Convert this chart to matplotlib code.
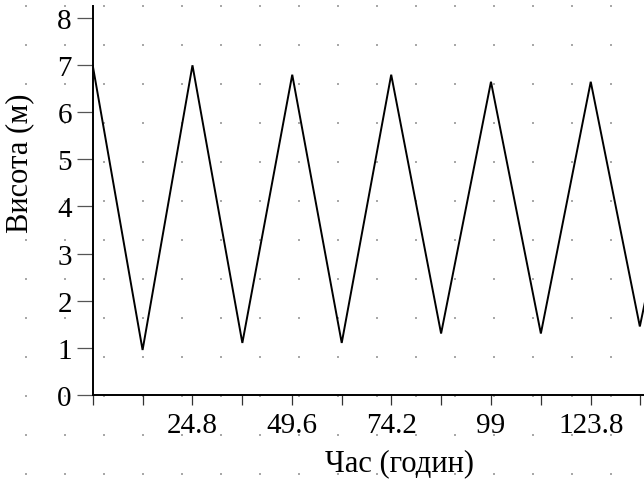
import numpy as np
import matplotlib
matplotlib.use('Agg')
from matplotlib import pyplot as plt

# tide heights: peaks and troughs
hours = [0, 12.4, 24.8, 37.2, 49.6, 61.9, 74.2, 86.6, 99, 111.4, 123.8, 136.0, 148.4]
height = [7.0, 0.95, 7.0, 1.1, 6.8, 1.1, 6.8, 1.3, 6.65, 1.3, 6.65, 1.45, 6.5]
tick_labels = ['', '', '24.8', '', '49.6', '', '74.2', '', '99', '', '123.8', '', '']

plt.rcParams['font.family'] = ['Liberation Serif', 'DejaVu Serif']
plt.rcParams['font.size'] = 21

W, H = 644, 481
fig = plt.figure(figsize=(W/100, H/100), dpi=100)

# dotted background grid (pixel coords)
bg = fig.add_axes([0, 0, 1, 1], zorder=-1)
bg.set_xlim(0, W)
bg.set_ylim(H, 0)
bg.axis('off')
gx, gy = np.meshgrid(np.arange(26, W, 39), np.arange(7, H, 39))
bg.scatter(gx.ravel(), gy.ravel(), s=0.6, color='#a8a8a8', marker='s', linewidths=0)

left, right = 92.7/W, 1.0
bottom, top = (H-395.7)/H, (H-7)/H
ax = fig.add_axes([left, bottom, right-left, top-bottom])
ax.patch.set_alpha(0)

ax.plot(hours, height, color='black', lw=1.4, solid_joinstyle='miter')

ax.set_xlim(0, (W-92.7)/4.023)
ax.set_ylim(0, 8.26)
ax.set_xticks(hours[:-1])
ax.set_xticklabels(tick_labels[:-1])
ax.set_yticks(range(0, 9))

for s in ['top', 'right']:
    ax.spines[s].set_visible(False)
for s in ['left', 'bottom']:
    ax.spines[s].set_linewidth(1.4)

ax.tick_params(axis='x', length=7.2, width=0.9, pad=5.5, color='#333333')
ax.tick_params(axis='y', length=11.5, width=0.9, pad=3.5, color='#555555')

fig.text(400/W, 1-464/H, 'Час (годин)', ha='center', va='center', fontsize=22)
fig.text(20/W, 1-163/H, 'Висота (м)', ha='center', va='center', rotation=90, fontsize=22)

fig.savefig('out.png', dpi=100)
